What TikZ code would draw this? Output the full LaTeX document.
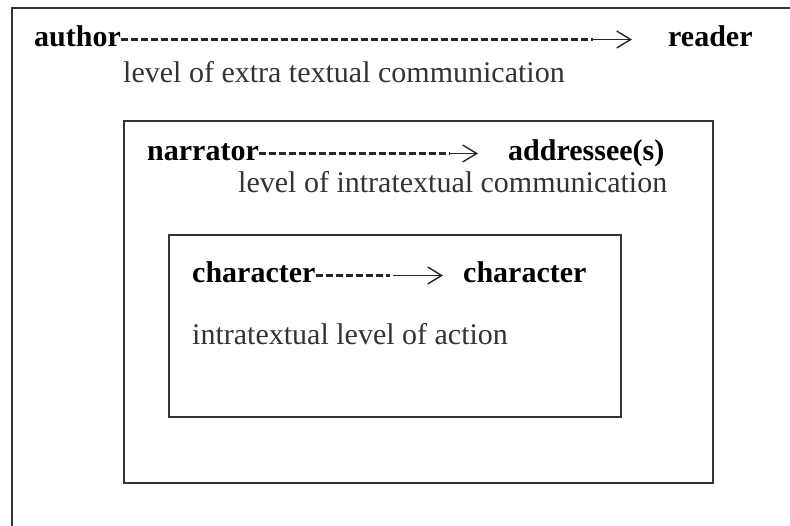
\documentclass[tikz,border=0pt]{standalone}
\usepackage{fontspec}
\setmainfont{Liberation Serif}
\usetikzlibrary{arrows.meta}
\begin{document}
\begin{tikzpicture}[x=1pt,y=-1pt,
  lbl/.style={inner sep=0pt,anchor=base west,font=\fontsize{30pt}{31pt}\selectfont\bfseries,text=black},
  note/.style={inner sep=0pt,anchor=base west,font=\fontsize{30pt}{31pt}\selectfont,text=black!80},
  frame/.style={draw=black!80,line width=1.3pt},
  dashline/.style={draw=black!85,line width=2.2pt,dash pattern=on 7pt off 3pt},
  solidarrow/.style={draw=black!85,line width=1.3pt,-{Straight Barb[length=14pt,width=17pt,line width=1.4pt]}}]
\useasboundingbox (0,0) rectangle (790,526);
% frames
\draw[frame] (790,8) -- (12,8) -- (12,526);
\draw[frame] (124,121) rectangle (713,483);
\draw[frame] (169,235) rectangle (621,417);
% level 1
\node[lbl] (author) at (34,47) {author};
\node[lbl] (reader) at (668,47) {reader};
\node[note] (l1) at (123,83) {level of extra textual communication};
\coordinate (a1) at (593,39.5);
\coordinate (a2) at (632,39.5);
\draw[dashline] ([yshift=7.5pt]author.base east) -- (a1);
\draw[solidarrow] (a1) -- (a2);
% level 2
\node[lbl] (narrator) at (147,161) {narrator};
\node[lbl] (addressee) at (508,161) {addressee(s)};
\node[note] (l2) at (238,193) {level of intratextual communication};
\coordinate (b1) at (450,153.5);
\coordinate (b2) at (478,153.5);
\draw[dashline] ([yshift=7.5pt]narrator.base east) -- (b1);
\draw[solidarrow] (b1) -- (b2);
% level 3
\node[lbl] (char1) at (192,283) {character};
\node[lbl] (char2) at (463,283) {character};
\node[note] (l3) at (192,345) {intratextual level of action};
\coordinate (c1) at (390,275.5);
\coordinate (c2) at (393,275.5);
\coordinate (c3) at (443,275.5);
\draw[dashline] ([yshift=7.5pt]char1.base east) -- (c1);
\draw[solidarrow] (c2) -- (c3);
\end{tikzpicture}
\end{document}
